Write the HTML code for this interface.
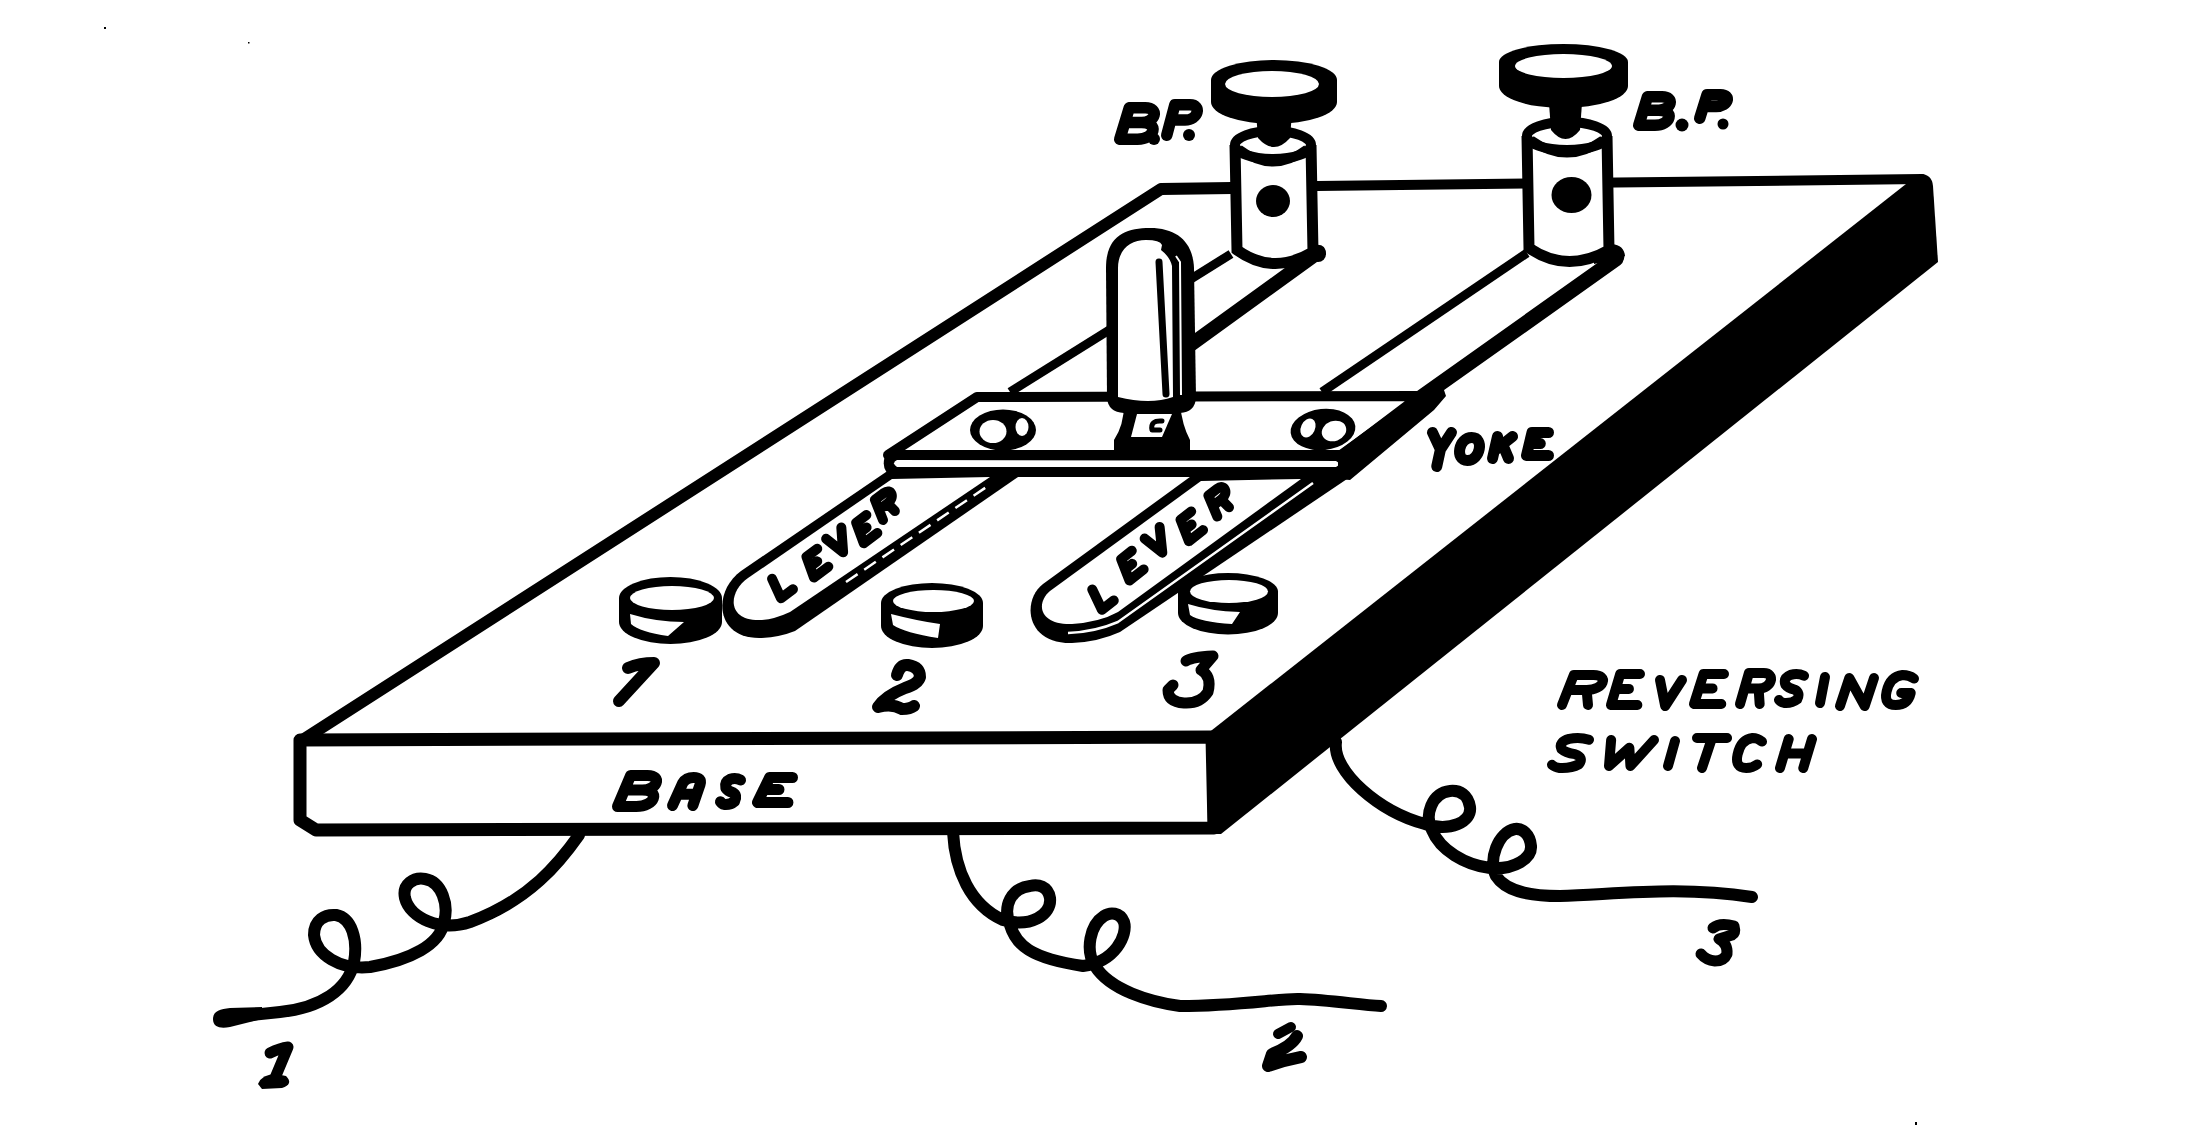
<!DOCTYPE html>
<html><head><meta charset="utf-8"><title>Reversing Switch</title>
<style>html,body{margin:0;padding:0;background:#fff;overflow:hidden}svg{display:block}</style>
</head><body><svg width="2203" height="1146" viewBox="0 0 2203 1146"><rect width="100%" height="100%" fill="#fff"/><path d="M301,741 L1161,189 L1232,188" fill="none" stroke="#000" stroke-width="12" stroke-linecap="round" stroke-linejoin="round" />
<path d="M1317,186 L1922,179" fill="none" stroke="#000" stroke-width="10" stroke-linecap="round"/>
<path d="M300,740 L1212,737 L1214,828 L316,830 L300,820 Z" fill="#fff" stroke="#000" stroke-width="13" stroke-linejoin="round"/>
<path d="M1207,734 L1906,184 L1920,174 Q1932,174 1933,186 L1938,262 L1221,834 L1208,834 Z" fill="#000"/>
<path d="M1010,392 L1231,254" fill="none" stroke="#000" stroke-width="9"/>
<path d="M1124,393 L1316,254" fill="none" stroke="#000" stroke-width="14" stroke-linecap="round"/>
<path d="M1322,392 L1527,253" fill="none" stroke="#000" stroke-width="9"/>
<path d="M1420,398 L1616,259" fill="none" stroke="#000" stroke-width="15" stroke-linecap="round"/>
<path d="M1235,145 L1237,250 Q1273.0,276 1313,252 L1311,145" fill="#fff" stroke="#000" stroke-width="11"/><ellipse cx="1273.0" cy="145" rx="38.0" ry="14" fill="#fff" stroke="#000" stroke-width="10"/><path d="M1239,149 Q1273.0,175 1307,149" fill="none" stroke="#000" stroke-width="9"/><ellipse cx="1273" cy="201" rx="17" ry="16" fill="#000"/><path d="M1255,100 L1258,138 Q1274.0,156 1290,138 L1293,100 Z" fill="#000"/><path d="M1211,80 A63,20 0 0 1 1337,80 L1337,102 A63,22 0 0 1 1211,102 Z" fill="#000"/><ellipse cx="1272" cy="84" rx="47" ry="13" fill="#fff"/>
<path d="M1527,136 L1529,248 Q1567.0,274 1609,250 L1607,136" fill="#fff" stroke="#000" stroke-width="11"/><ellipse cx="1567.0" cy="136" rx="40.0" ry="14" fill="#fff" stroke="#000" stroke-width="10"/><path d="M1531,140 Q1567.0,166 1603,140" fill="none" stroke="#000" stroke-width="9"/><ellipse cx="1571.5" cy="195" rx="20" ry="18" fill="#000"/><path d="M1548,90 L1551,130 Q1565.5,148 1580,130 L1583,90 Z" fill="#000"/><path d="M1499.0,62 A64.5,18 0 0 1 1628.0,62 L1628.0,86 A64.5,22 0 0 1 1499.0,86 Z" fill="#000"/><ellipse cx="1563.5" cy="66" rx="48.5" ry="12" fill="#fff"/>
<path d="M1298,268 Q1314,262 1326,254 Q1326,243 1314,245 Q1308,258 1298,262 Z" fill="#000"/><circle cx="1318" cy="254" r="8" fill="#000"/>
<path d="M1594,264 Q1612,260 1625,256 Q1624,245 1612,244 Q1606,256 1594,259 Z" fill="#000"/><circle cx="1616" cy="256" r="8.5" fill="#000"/>
<path d="M977,397 L1420,396 L1342,455 L888,455 Z" fill="#fff" stroke="#000" stroke-width="10" stroke-linejoin="round"/>
<path d="M886,451 L1346,451 L1346,477 L895,477 Q882,474 884,460 Z" fill="#000"/>
<path d="M897,460 L1336,461 Q1342,464 1336,467 L897,467 Q891,463 897,460 Z" fill="#fff"/>
<path d="M1338,451 L1410,399 L1420,391 L1440,378 L1446,396 L1434,410 L1362,470 L1350,480 L1338,479 Z" fill="#000"/>
<ellipse cx="1003" cy="430" rx="33" ry="20.5" fill="#000"/>
<ellipse cx="993" cy="431.5" rx="13.5" ry="11.5" fill="#fff"/>
<ellipse cx="1022" cy="427" rx="6.5" ry="9" fill="#fff"/>
<ellipse cx="1323" cy="429.5" rx="32.5" ry="20.5" fill="#000" transform="rotate(-6 1323 429.5)"/>
<ellipse cx="1308" cy="428" rx="7" ry="10" fill="#fff" transform="rotate(25 1308 428)"/>
<ellipse cx="1334" cy="431" rx="12.5" ry="10" fill="#fff" transform="rotate(-20 1334 431)"/>
<path d="M1106,268 C1106,236 1125,228 1150,228 C1178,228 1193,243 1194,268 L1196,398 Q1195,412 1180,413 L1124,413 Q1108,412 1107,398 Z" fill="#000"/>
<path d="M1118,397 L1118,268 C1118,250 1130,240 1146,240 Q1160,240 1162,245 L1161,250 Q1170,257 1172,266 L1173,397 Q1150,405 1118,397 Z" fill="#fff"/>
<path d="M1176,256 L1180,262 L1181,395" fill="none" stroke="#fff" stroke-width="2"/>
<path d="M1159,262 L1166,394" fill="none" stroke="#000" stroke-width="7" stroke-linecap="round" stroke-linejoin="round" />
<path d="M1124,404 L1180,404 Q1182,425 1190,440 L1190,452 L1114,452 L1114,440 Q1124,425 1124,404 Z" fill="#000"/>
<path d="M1137,414 L1172,414 L1162,437 L1131,437 Z" fill="#fff"/>
<path d="M1162,421 Q1150,420 1152,430 L1160,430" fill="none" stroke="#000" stroke-width="5" stroke-linecap="round" stroke-linejoin="round" />
<path d="M886,472 L741,571 C712,592 715,640 762,638 Q780,637 795,631 L1018,477 Z" fill="#000"/>
<path d="M892,479 L748,578 C727,593 727,622 762,620 Q775,619 790,612 L990,477 Z" fill="#fff"/>
<path d="M846,582 L988,486" fill="none" stroke="#fff" stroke-width="2.5" stroke-dasharray="14 8"/>
<path d="M1194,474 L1043,584 C1022,600 1025,644 1072,643 Q1098,642 1120,632 L1350,477 Z" fill="#000"/>
<path d="M1201,481 L1050,591 C1035,604 1040,625 1072,624 Q1100,622 1118,612 L1301,479 Z" fill="#fff"/>
<path d="M1068,633 Q1095,632 1118,622 L1313,483" fill="none" stroke="#fff" stroke-width="2.5"/>
<path d="M619,598 A51.5,21 0 0 1 722,598 L722,622 A51.5,22 0 0 1 619,622 Z" fill="#000"/><ellipse cx="672" cy="598" rx="42" ry="12" fill="#fff"/><path d="M630,614 Q656,622 684,622 L668,636 Q640,632 631,624 Z" fill="#fff"/>
<path d="M881,603 A51.0,20 0 0 1 983,603 L983,626 A51.0,22 0 0 1 881,626 Z" fill="#000"/><ellipse cx="933.5" cy="601" rx="40.5" ry="11" fill="#fff"/><path d="M891,614 Q918,621 940,624 L938,638 Q905,633 893,625 Z" fill="#fff"/>
<path d="M1178,591.5 A50.0,18.5 0 0 1 1278,591.5 L1278,613 A50.0,21.5 0 0 1 1178,613 Z" fill="#000"/><ellipse cx="1229" cy="591.5" rx="39" ry="11.5" fill="#fff"/><path d="M1188,604 Q1210,611 1240,612 L1232,624 Q1200,622 1190,615 Z" fill="#fff"/>
<path d="M628,668 Q640,663 654,663 L619,701" fill="none" stroke="#000" stroke-width="12" stroke-linecap="round" stroke-linejoin="round" />
<path d="M897,675 Q900,664 908,665 Q920,667 920,677 Q918,684 905,688 Q885,696 878,707 Q892,703 902,709 Q910,709 914,706" fill="none" stroke="#000" stroke-width="12" stroke-linecap="round" stroke-linejoin="round" />
<path d="M1186,661 Q1192,657 1213,656 L1201,670 Q1212,676 1208,692 Q1200,704 1184,703 Q1168,702 1168,690 L1173,685" fill="none" stroke="#000" stroke-width="11" stroke-linecap="round" stroke-linejoin="round" />
<path transform="matrix(37.5497,0,-11.2649,31.0000,628.765,775.500)" d="M0.05,0 L0,1 M0.05,0 L0.5,0 C0.9,0 0.9,0.47 0.5,0.47 L0.03,0.47 M0.5,0.47 C1,0.47 1,1 0.5,1 L0,1" fill="none" stroke="#000" stroke-width="11" stroke-linecap="round" stroke-linejoin="round" vector-effect="non-scaling-stroke"/><path transform="matrix(28.2830,0,-8.4849,28.0000,680.985,777.500)" d="M0,1 L0.12,0.2 Q0.18,0 0.45,0 Q0.75,0 0.75,0.25 L0.72,1 M0.06,0.6 L0.72,0.6" fill="none" stroke="#000" stroke-width="11" stroke-linecap="round" stroke-linejoin="round" vector-effect="non-scaling-stroke"/><path transform="matrix(17.4520,0,-5.2356,26.4949,725.212,777.939)" d="M0.9,0.08 Q0.6,-0.02 0.3,0.05 Q0,0.15 0.15,0.38 Q0.3,0.5 0.6,0.55 Q0.9,0.65 0.8,0.88 Q0.6,1.02 0.25,1 Q0.1,0.98 0,0.9" fill="none" stroke="#000" stroke-width="11" stroke-linecap="round" stroke-linejoin="round" vector-effect="non-scaling-stroke"/><path transform="matrix(30.4491,0,-9.1347,25.0000,766.618,777.500)" d="M0.85,0 L0.1,0 L0,1 L1,1 M0.05,0.48 L0.55,0.48" fill="none" stroke="#000" stroke-width="11" stroke-linecap="round" stroke-linejoin="round" vector-effect="non-scaling-stroke"/>
<path d="M579,835 C560,862 530,900 470,922 C440,932 410,918 405,898 C402,884 414,877 425,879 C442,882 449,905 444,922 C440,945 410,960 370,967 C340,970 316,955 314,935 C314,920 325,914 336,915 C352,918 358,940 354,962 C348,990 320,1008 280,1012 L225,1018" fill="none" stroke="#000" stroke-width="12" stroke-linecap="round" stroke-linejoin="round" />
<path d="M953,832 C955,870 970,905 1003,920 C1030,928 1052,915 1050,898 C1048,886 1038,884 1030,886 C1012,888 1002,905 1010,925 C1016,945 1030,958 1083,966 C1115,962 1128,935 1124,922 C1120,912 1110,912 1104,916 C1090,925 1085,950 1095,966 C1110,990 1150,1002 1180,1006 C1240,1006 1280,998 1300,999 C1330,1000 1360,1005 1381,1006" fill="none" stroke="#000" stroke-width="12" stroke-linecap="round" stroke-linejoin="round" />
<path d="M1336,742 C1332,772 1380,812 1425,824 C1450,832 1472,822 1470,807 C1468,795 1460,790 1450,791 C1432,793 1424,815 1432,830 C1440,850 1465,865 1490,868 C1515,870 1532,858 1531,846 C1530,834 1522,828 1515,829 C1498,832 1488,860 1496,876 C1505,890 1525,896 1560,896 C1620,894 1680,886 1752,897" fill="none" stroke="#000" stroke-width="12" stroke-linecap="round" stroke-linejoin="round" />
<path d="M213,1019 C213,1011 220,1009 230,1008 L262,1007 L262,1019 L230,1027 C220,1029 213,1027 213,1019 Z" fill="#000"/>
<path d="M270,1053 Q280,1048 288,1047 L275,1078" fill="none" stroke="#000" stroke-width="11" stroke-linecap="round" stroke-linejoin="round" />
<path d="M258,1084 Q262,1074 276,1074 L286,1076 Q294,1084 282,1088 L262,1089 Z" fill="#000"/>
<path d="M1278,1034 L1291,1027" fill="none" stroke="#000" stroke-width="10" stroke-linecap="round" stroke-linejoin="round" />
<path d="M1297,1036 Q1292,1046 1272,1054 L1268,1066 Q1285,1060 1301,1057" fill="none" stroke="#000" stroke-width="12" stroke-linecap="round" stroke-linejoin="round" />
<path d="M1713,928 Q1720,922 1734,926 Q1736,933 1732,935 L1719,939 Q1728,944 1727,954 Q1724,961 1715,961 Q1706,960 1701,954" fill="none" stroke="#000" stroke-width="11" stroke-linecap="round" stroke-linejoin="round" />
<path transform="matrix(35.4482,0,-7.7986,31.5000,1127.549,107.750)" d="M0.05,0 L0,1 M0.05,0 L0.5,0 C0.9,0 0.9,0.47 0.5,0.47 L0.03,0.47 M0.5,0.47 C1,0.47 1,1 0.5,1 L0,1" fill="none" stroke="#000" stroke-width="11.5" stroke-linecap="round" stroke-linejoin="round" vector-effect="non-scaling-stroke"/><path transform="matrix(29.9988,0,-6.5997,30.5000,1173.350,104.750)" d="M0,1 L0.05,0 L0.55,0 C0.95,0 0.95,0.5 0.5,0.5 L0.03,0.5" fill="none" stroke="#000" stroke-width="11.5" stroke-linecap="round" stroke-linejoin="round" vector-effect="non-scaling-stroke"/>
<circle cx="1189" cy="135" r="6" fill="#000"/><circle cx="1154" cy="139" r="6" fill="#000"/>
<path transform="matrix(32.3658,0,-7.1205,28.5000,1645.870,96.750)" d="M0.05,0 L0,1 M0.05,0 L0.5,0 C0.9,0 0.9,0.47 0.5,0.47 L0.03,0.47 M0.5,0.47 C1,0.47 1,1 0.5,1 L0,1" fill="none" stroke="#000" stroke-width="11.5" stroke-linecap="round" stroke-linejoin="round" vector-effect="non-scaling-stroke"/><path transform="matrix(27.0481,0,-5.9506,23.5000,1705.701,94.750)" d="M0,1 L0.05,0 L0.55,0 C0.95,0 0.95,0.5 0.5,0.5 L0.03,0.5" fill="none" stroke="#000" stroke-width="11.5" stroke-linecap="round" stroke-linejoin="round" vector-effect="non-scaling-stroke"/>
<circle cx="1682" cy="125" r="6.5" fill="#000"/><circle cx="1723" cy="124" r="5.5" fill="#000"/>
<path transform="matrix(21.1165,0,-3.1675,34.0000,1432.500,432.500)" d="M0,0 L0.45,0.5 L0.9,0 M0.45,0.5 L0.35,1" fill="none" stroke="#000" stroke-width="11" stroke-linecap="round" stroke-linejoin="round" vector-effect="non-scaling-stroke"/><path transform="matrix(28.8428,0,-4.3264,23.0000,1458.684,437.500)" d="M0.45,0 C0.9,0 0.9,1 0.45,1 C0,1 0,0 0.45,0 Z" fill="none" stroke="#000" stroke-width="11" stroke-linecap="round" stroke-linejoin="round" vector-effect="non-scaling-stroke"/><path transform="matrix(20.0504,0,-3.0076,22.0000,1495.503,436.500)" d="M0.1,0 L0,1 M0.85,0 L0.05,0.65 M0.4,0.35 L0.8,1" fill="none" stroke="#000" stroke-width="11" stroke-linecap="round" stroke-linejoin="round" vector-effect="non-scaling-stroke"/><path transform="matrix(22.0075,0,-3.3011,23.0000,1529.794,432.500)" d="M0.85,0 L0.1,0 L0,1 L1,1 M0.05,0.48 L0.55,0.48" fill="none" stroke="#000" stroke-width="11" stroke-linecap="round" stroke-linejoin="round" vector-effect="non-scaling-stroke"/>
<path transform="matrix(39.3836,0,-9.8459,30.0000,1571.846,675.000)" d="M0,1 L0.05,0 L0.55,0 C0.95,0 0.95,0.5 0.5,0.5 L0.03,0.5 M0.5,0.5 L0.66,1" fill="none" stroke="#000" stroke-width="10" stroke-linecap="round" stroke-linejoin="round" vector-effect="non-scaling-stroke"/><path transform="matrix(26.3750,0,-6.5938,31.0000,1617.581,674.000)" d="M0.85,0 L0.1,0 L0,1 L1,1 M0.05,0.48 L0.55,0.48" fill="none" stroke="#000" stroke-width="10" stroke-linecap="round" stroke-linejoin="round" vector-effect="non-scaling-stroke"/><path transform="matrix(25.8824,0,-6.4706,26.0264,1660.000,680.000)" d="M0,0 L0.45,1 L0.85,0" fill="none" stroke="#000" stroke-width="10" stroke-linecap="round" stroke-linejoin="round" vector-effect="non-scaling-stroke"/><path transform="matrix(27.2845,0,-6.8211,30.0000,1700.808,674.000)" d="M0.85,0 L0.1,0 L0,1 L1,1 M0.05,0.48 L0.55,0.48" fill="none" stroke="#000" stroke-width="10" stroke-linecap="round" stroke-linejoin="round" vector-effect="non-scaling-stroke"/><path transform="matrix(29.7778,0,-7.4445,31.0000,1747.444,673.000)" d="M0,1 L0.05,0 L0.55,0 C0.95,0 0.95,0.5 0.5,0.5 L0.03,0.5 M0.5,0.5 L0.66,1" fill="none" stroke="#000" stroke-width="10" stroke-linecap="round" stroke-linejoin="round" vector-effect="non-scaling-stroke"/><path transform="matrix(22.6244,0,-5.6561,29.5520,1784.090,673.374)" d="M0.9,0.08 Q0.6,-0.02 0.3,0.05 Q0,0.15 0.15,0.38 Q0.3,0.5 0.6,0.55 Q0.9,0.65 0.8,0.88 Q0.6,1.02 0.25,1 Q0.1,0.98 0,0.9" fill="none" stroke="#000" stroke-width="10" stroke-linecap="round" stroke-linejoin="round" vector-effect="non-scaling-stroke"/><path d="M1825.00,677.00 L1820.00,703.00" fill="none" stroke="#000" stroke-width="10" stroke-linecap="round"/><path transform="matrix(30.9091,0,-7.7273,28.0000,1847.727,678.000)" d="M0,1 L0.05,0 L0.8,1 L0.85,0" fill="none" stroke="#000" stroke-width="10" stroke-linecap="round" stroke-linejoin="round" vector-effect="non-scaling-stroke"/><path transform="matrix(27.1845,0,-6.7961,30.0000,1890.349,675.000)" d="M0.9,0.12 Q0.7,0 0.45,0 Q0,0.05 0,0.55 Q0,1 0.45,1 Q0.9,1 0.9,0.6 L0.55,0.6" fill="none" stroke="#000" stroke-width="10" stroke-linecap="round" stroke-linejoin="round" vector-effect="non-scaling-stroke"/>
<path transform="matrix(33.4842,0,-8.3710,30.5710,1559.534,737.353)" d="M0.9,0.08 Q0.6,-0.02 0.3,0.05 Q0,0.15 0.15,0.38 Q0.3,0.5 0.6,0.55 Q0.9,0.65 0.8,0.88 Q0.6,1.02 0.25,1 Q0.1,0.98 0,0.9" fill="none" stroke="#000" stroke-width="10" stroke-linecap="round" stroke-linejoin="round" vector-effect="non-scaling-stroke"/><path transform="matrix(42.8624,0,-10.7156,26.0053,1611.138,740.000)" d="M0,0 L0.2,1 L0.5,0.3 L0.7,1 L1,0" fill="none" stroke="#000" stroke-width="10" stroke-linecap="round" stroke-linejoin="round" vector-effect="non-scaling-stroke"/><path d="M1675.00,741.00 L1668.00,766.00" fill="none" stroke="#000" stroke-width="10" stroke-linecap="round"/><path transform="matrix(33.3949,0,-8.3487,30.0000,1697.000,738.000)" d="M0,0 L0.9,0 M0.45,0 L0.4,1" fill="none" stroke="#000" stroke-width="10" stroke-linecap="round" stroke-linejoin="round" vector-effect="non-scaling-stroke"/><path transform="matrix(25.5103,0,-6.3776,30.0001,1741.082,738.000)" d="M0.85,0.12 Q0.65,0 0.45,0 Q0,0.05 0,0.55 Q0,1 0.45,1 Q0.7,1 0.85,0.88" fill="none" stroke="#000" stroke-width="10" stroke-linecap="round" stroke-linejoin="round" vector-effect="non-scaling-stroke"/><path transform="matrix(29.1187,0,-7.2797,29.0643,1787.255,739.000)" d="M0.05,0 L0,1 M0.85,0 L0.8,1 M0.02,0.5 L0.82,0.5" fill="none" stroke="#000" stroke-width="10" stroke-linecap="round" stroke-linejoin="round" vector-effect="non-scaling-stroke"/>
<path transform="translate(782.50,584.00) rotate(-37.00) matrix(20.0000,0,-4.6200,21.0000,-5.1900,-10.5000)" d="M0,0 L0,1 L0.75,1" fill="none" stroke="#000" stroke-width="10" stroke-linecap="round" stroke-linejoin="round" vector-effect="non-scaling-stroke"/><path transform="translate(816.70,562.30) rotate(-37.00) matrix(18.0000,0,-4.6200,21.0000,-6.6900,-10.5000)" d="M0.85,0 L0.1,0 L0,1 L1,1 M0.05,0.48 L0.55,0.48" fill="none" stroke="#000" stroke-width="10" stroke-linecap="round" stroke-linejoin="round" vector-effect="non-scaling-stroke"/><path transform="translate(838.20,542.90) rotate(-37.00) matrix(22.3529,0,-4.6200,21.0000,-7.1900,-10.5000)" d="M0,0 L0.45,1 L0.85,0" fill="none" stroke="#000" stroke-width="10" stroke-linecap="round" stroke-linejoin="round" vector-effect="non-scaling-stroke"/><path transform="translate(866.10,528.40) rotate(-37.00) matrix(17.0000,0,-4.6200,21.0000,-6.1900,-10.5000)" d="M0.85,0 L0.1,0 L0,1 L1,1 M0.05,0.48 L0.55,0.48" fill="none" stroke="#000" stroke-width="10" stroke-linecap="round" stroke-linejoin="round" vector-effect="non-scaling-stroke"/><path transform="translate(886.10,504.50) rotate(-37.00) matrix(22.5112,0,-4.6200,21.0000,-7.1900,-10.5000)" d="M0,1 L0.05,0 L0.55,0 C0.95,0 0.95,0.5 0.5,0.5 L0.03,0.5 M0.5,0.5 L0.66,1" fill="none" stroke="#000" stroke-width="10" stroke-linecap="round" stroke-linejoin="round" vector-effect="non-scaling-stroke"/>
<path transform="translate(1103.00,595.00) rotate(-38.00) matrix(20.0000,0,-4.8400,22.0000,-5.0800,-11.0000)" d="M0,0 L0,1 L0.75,1" fill="none" stroke="#000" stroke-width="10" stroke-linecap="round" stroke-linejoin="round" vector-effect="non-scaling-stroke"/><path transform="translate(1131.70,564.80) rotate(-38.00) matrix(18.0000,0,-4.8400,22.0000,-6.5800,-11.0000)" d="M0.85,0 L0.1,0 L0,1 L1,1 M0.05,0.48 L0.55,0.48" fill="none" stroke="#000" stroke-width="10" stroke-linecap="round" stroke-linejoin="round" vector-effect="non-scaling-stroke"/><path transform="translate(1157.00,542.90) rotate(-38.00) matrix(22.3529,0,-4.8400,22.0000,-7.0800,-11.0000)" d="M0,0 L0.45,1 L0.85,0" fill="none" stroke="#000" stroke-width="10" stroke-linecap="round" stroke-linejoin="round" vector-effect="non-scaling-stroke"/><path transform="translate(1191.10,525.50) rotate(-38.00) matrix(18.0000,0,-4.8400,22.0000,-6.5800,-11.0000)" d="M0.85,0 L0.1,0 L0,1 L1,1 M0.05,0.48 L0.55,0.48" fill="none" stroke="#000" stroke-width="10" stroke-linecap="round" stroke-linejoin="round" vector-effect="non-scaling-stroke"/><path transform="translate(1219.90,500.50) rotate(-38.00) matrix(22.5112,0,-4.8400,22.0000,-7.0800,-11.0000)" d="M0,1 L0.05,0 L0.55,0 C0.95,0 0.95,0.5 0.5,0.5 L0.03,0.5 M0.5,0.5 L0.66,1" fill="none" stroke="#000" stroke-width="10" stroke-linecap="round" stroke-linejoin="round" vector-effect="non-scaling-stroke"/>
<rect x="104" y="27" width="2" height="2" fill="#000"/><rect x="248" y="42" width="1.5" height="1.5" fill="#000"/><rect x="1915" y="1122" width="2" height="3" fill="#000"/></svg></body></html>
